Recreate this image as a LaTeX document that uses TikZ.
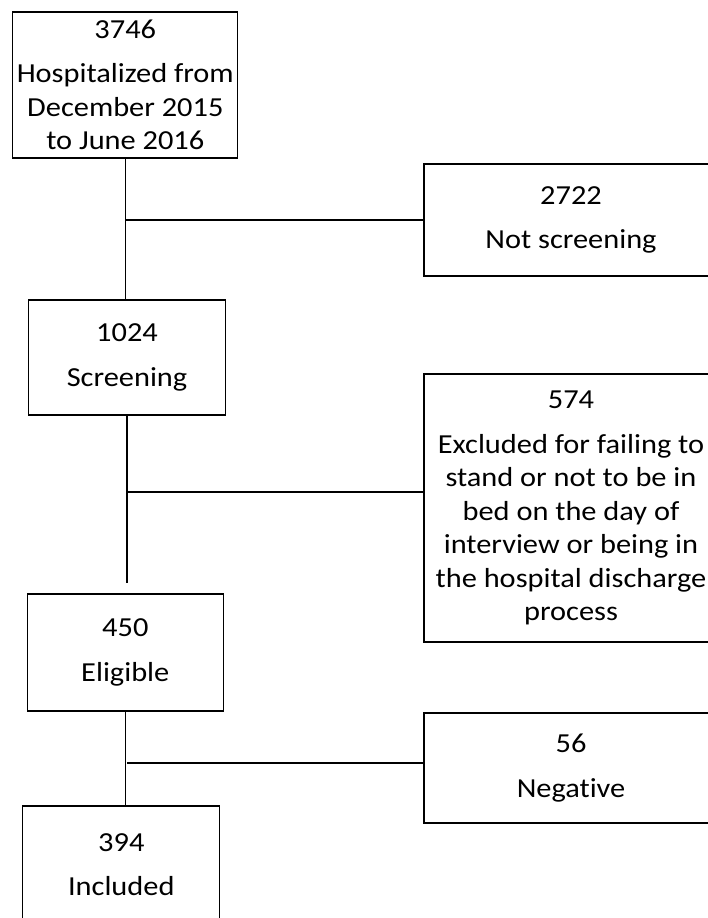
\documentclass[tikz,border=0pt]{standalone}
\usepackage{fontspec}
\setmainfont{Carlito}[FakeStretch=1.105,Ligatures={NoCommon}]
\usetikzlibrary{positioning}

\begin{document}
\begin{tikzpicture}[x=1pt,y=-1pt,
		stage/.style={rectangle,draw=black,line width=1.3pt,align=center,inner sep=0pt,
			font=\fontsize{27.5}{33.5}\selectfont},
		link/.style={draw=black,line width=1.3pt}]
		\clip (0,0) rectangle (708,918);
		\node[stage,minimum width=225pt,minimum height=146pt] (hosp) at (125.3,85)
			{3746\\[11pt]Hospitalized from\\December 2015\\to June 2016};
		\node[stage,minimum width=294pt,minimum height=112pt] (nots) at (571,220)
			{2722\\[11pt]Not screening};
		\node[stage,minimum width=197pt,minimum height=115pt] (scr)  at (127,357.5)
			{1024\\[11pt]Screening};
		\node[stage,minimum width=294pt,minimum height=268pt] (excl) at (571,508)
			{574\\[11pt]Excluded for failing to\\stand or not to be in\\bed on the day of\\interview or being in\\the hospital discharge\\process};
		\node[stage,minimum width=196pt,minimum height=117pt] (elig) at (125.3,652.5)
			{450\\[11pt]Eligible};
		\node[stage,minimum width=294pt,minimum height=110pt] (neg)  at (571,768)
			{56\\[11pt]Negative};
		\node[stage,minimum width=197pt,minimum height=117pt] (incl) at (121.3,864.5)
			{394\\[11pt]Included};

		\coordinate (j1) at (hosp.south |- nots.west);
		\coordinate (j2) at (127,492);
		\coordinate (e2) at (127,583);
		\coordinate (j3) at (127,763);

		\draw[link] (hosp.south) -- (hosp.south |- scr.north);
		\draw[link] (j1) -- (nots.west);
		\draw[link] (scr.south) -- (e2);
		\draw[link] (j2) -- (j2 -| excl.west);
		\draw[link] (elig.south) -- (elig.south |- incl.north);
		\draw[link] (j3) -- (j3 -| neg.west);
\end{tikzpicture}
\end{document}
